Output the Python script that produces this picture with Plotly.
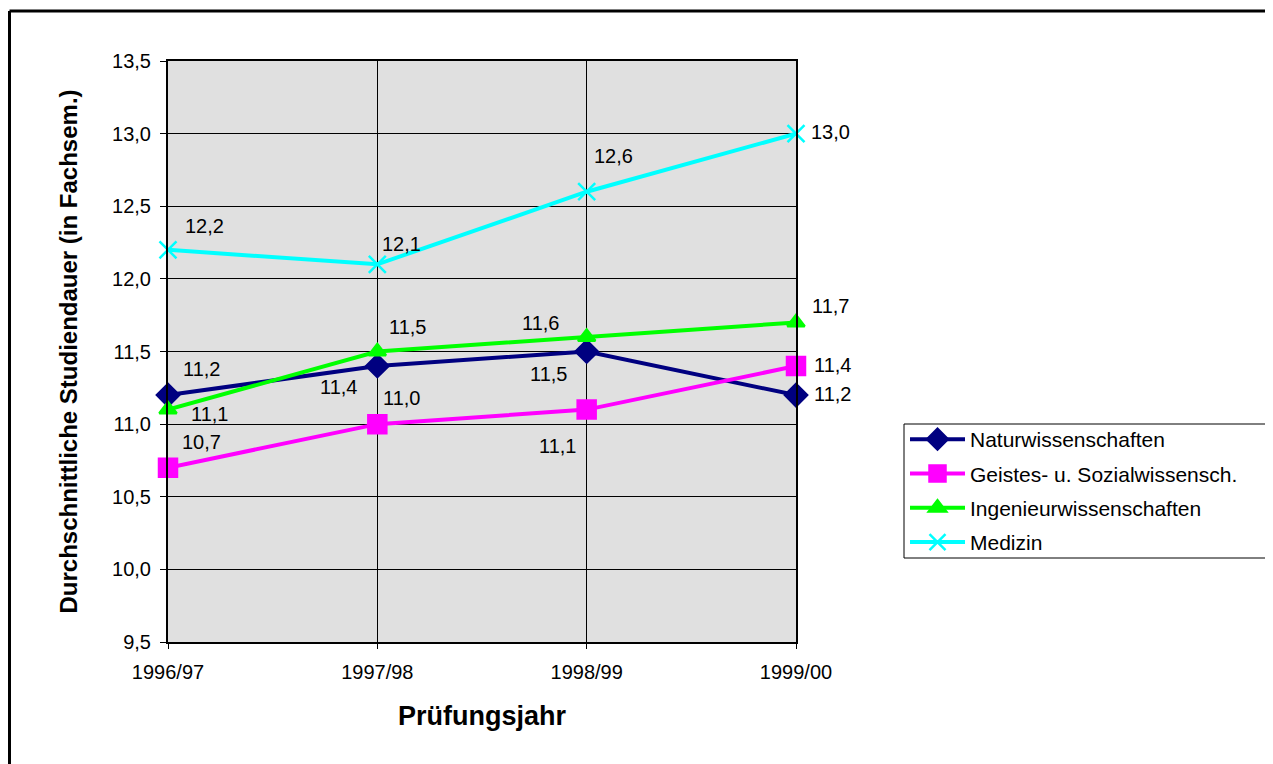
import plotly.graph_objects as go

years = ["1996/97", "1997/98", "1998/99", "1999/00"]
natur = [11.2, 11.4, 11.5, 11.2]
geistes = [10.7, 11.0, 11.1, 11.4]
ingenieur = [11.1, 11.5, 11.6, 11.7]
medizin = [12.2, 12.1, 12.6, 13.0]

# style: (name, values, colour, symbol, marker size, label pixel offsets (dx, dy up))
series = [
    ("Naturwissenschaften", natur, "#000080", "diamond", 17,
     [(33, 26), (-39, -21), (-38, -22), (36, 1)]),
    ("Geistes- u. Sozialwissensch.", geistes, "#ff00ff", "square", 18,
     [(33, 26), (24, 26), (-29, -36), (36, 1)]),
    ("Ingenieurwissenschaften", ingenieur, "#00ff00", "triangle-up", 15,
     [(41, -4), (30, 25), (-46, 14), (34, 16)]),
    ("Medizin", medizin, "#00ffff", "x-thin", 17,
     [(36, 24), (24, 20), (27, 36), (34, 2)]),
]

xs = list(range(len(years)))
fig = go.Figure()
annotations = []
for i, (name, vals, color, sym, size, offs) in enumerate(series):
    fig.add_trace(go.Scatter(
        x=xs, y=vals, name=name, mode="lines+markers",
        legendgroup=f"g{i}",
        line=dict(color=color, width=4),
        marker=dict(symbol=sym, size=size, color=color,
                    line=dict(color=color, width=2.5)),
        cliponaxis=False,
    ))
    for xv, v, (dx, dy) in zip(xs, vals, offs):
        annotations.append(dict(
            x=xv, y=v, xref="x", yref="y",
            text=f"{v:.1f}".replace(".", ","),
            showarrow=False, xanchor="center", yanchor="middle",
            xshift=dx, yshift=dy,
            font=dict(family="Liberation Sans, Arial", size=20, color="black"),
        ))

OFF = 7  # page body offset
L, R, T, B = 167 - OFF, 795 - OFF, 60 - OFF, 641 - OFF
W, H = 1273, 764
pw, ph = R - L, B - T

def px(x):
    return (x - OFF - L) / pw

def py(y):
    return (B - (y - OFF)) / ph

fig.update_layout(
    width=W, height=H,
    margin=dict(l=L, r=W - R, t=T, b=H - B, pad=0),
    paper_bgcolor="white",
    plot_bgcolor="#e0e0e0",
    separators=",.",
    font=dict(family="Liberation Sans, Arial", size=20, color="black"),
    showlegend=True,
    annotations=annotations,
    legend=dict(
        x=px(904), y=py(418), xanchor="left", yanchor="top",
        borderwidth=0, bgcolor="rgba(0,0,0,0)",
        font=dict(size=21), tracegroupgap=4, itemwidth=55,
    ),
    xaxis=dict(
        range=[0, 3], tickmode="array", tickvals=xs, ticktext=years,
        showgrid=True, gridcolor="black", gridwidth=1,
        showline=True, linecolor="black", linewidth=2, mirror=True,
        ticks="outside", ticklen=5, tickcolor="black",
        ticklabelstandoff=6,
        zeroline=False,
        tickfont=dict(size=20),
        title=dict(text="<b>Prüfungsjahr</b>", font=dict(size=27), standoff=24),
    ),
    yaxis=dict(
        range=[9.5, 13.5], dtick=0.5, tick0=9.5, tickformat=".1f",
        showgrid=True, gridcolor="black", gridwidth=1,
        showline=True, linecolor="black", linewidth=2, mirror=True,
        ticks="outside", ticklen=6, tickcolor="black",
        ticklabelstandoff=5,
        zeroline=False,
        tickfont=dict(size=20),
        title=dict(text="<b>Durchschnittliche Studiendauer (in Fachsem.)</b>",
                   font=dict(size=24), standoff=28),
    ),
    shapes=[
        dict(type="rect", xref="paper", yref="paper",
             x0=px(903), x1=px(1268), y0=py(423), y1=py(557),
             line=dict(color="black", width=1), fillcolor="rgba(0,0,0,0)",
             layer="below"),
        dict(type="line", xref="paper", yref="paper",
             x0=px(OFF + 1.5), x1=px(W + 20), y0=py(10), y1=py(10),
             line=dict(color="black", width=3)),
        dict(type="line", xref="paper", yref="paper",
             x0=px(OFF + 1.5), x1=px(OFF + 1.5), y0=py(10), y1=py(H + 20),
             line=dict(color="black", width=3)),
    ],
)

fig.write_html("out.html")
